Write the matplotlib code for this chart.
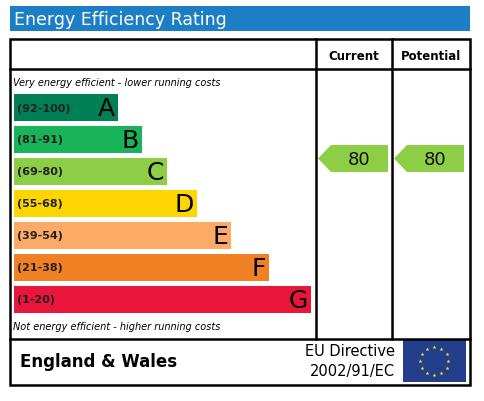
import numpy as np
import matplotlib.pyplot as plt
from matplotlib.patches import Rectangle, Polygon

# Bands
bands = ["A", "B", "C", "D", "E", "F", "G"]
ranges = ["(92-100)", "(81-91)", "(69-80)", "(55-68)", "(39-54)", "(21-38)", "(1-20)"]
band_right = [118, 142, 167, 197, 231, 269, 311]
colors = ["#008054", "#19b459", "#8dce46", "#ffd500", "#fcaa65", "#ef8023", "#e9153b"]
current = 80
potential = 80


def band_of(v):
    lows = [92, 81, 69, 55, 39, 21, 1]
    for i, lo in enumerate(lows):
        if v >= lo:
            return i
    return 6


fig = plt.figure(figsize=(4.85, 4.02), dpi=100)
ax = fig.add_axes([0, 0, 1, 1])
ax.set_xlim(0, 485)
ax.set_ylim(402, 0)
ax.axis("off")

# Title bar
ax.add_patch(Rectangle((10, 7), 460, 25, color="#1c7fc6", lw=0))
ax.text(14, 20, "Energy Efficiency Rating", color="white", fontsize=12.5,
        va="center", ha="left", family="DejaVu Sans")

# Frame
lw = 1.8
ax.add_patch(Rectangle((10, 40), 460, 346, fill=False, ec="black", lw=lw))
ax.plot([10, 470], [70, 70], color="black", lw=lw)
ax.plot([10, 470], [340, 340], color="black", lw=lw)
ax.plot([316, 316], [40, 340], color="black", lw=lw)
ax.plot([392, 392], [40, 340], color="black", lw=lw)
ax.text(354, 56, "Current", fontsize=8.5, fontweight="bold", ha="center", va="center")
ax.text(431, 56, "Potential", fontsize=8.5, fontweight="bold", ha="center", va="center")

ax.text(13, 83, "Very energy efficient - lower running costs", fontsize=7,
        style="italic", ha="left", va="center")
ax.text(13, 327, "Not energy efficient - higher running costs", fontsize=7,
        style="italic", ha="left", va="center")

top0, step, h = 95, 32, 27
for i, (b, r, xr, c) in enumerate(zip(bands, ranges, band_right, colors)):
    y = top0 + i * step
    ax.add_patch(Rectangle((14, y), xr - 14, h, color=c, lw=0))
    ax.text(17, y + h / 2, r, fontsize=8, fontweight="bold", ha="left", va="center",
            color="#222222")
    ax.text(xr - 3, y + h / 2 + 1, b, fontsize=18, ha="right", va="center", color="black")


def arrow(x0, x1, val):
    i = band_of(val)
    y = top0 + i * step - 13
    yc = y + h / 2
    pts = [(x0, yc), (x0 + 13, y), (x1, y), (x1, y + h), (x0 + 13, y + h)]
    ax.add_patch(Polygon(pts, closed=True, color=colors[i], lw=0))
    ax.text((x0 + x1) / 2 + 6, yc + 0.5, str(val), fontsize=13, ha="center",
            va="center", color="#111111")


arrow(318, 388, current)
arrow(394, 464, potential)

# Footer
ax.text(20, 362, "England & Wales", fontsize=12, fontweight="bold", ha="left", va="center")
ax.text(395, 352, "EU Directive", fontsize=10.5, ha="right", va="center")
ax.text(395, 372, "2002/91/EC", fontsize=10.5, ha="right", va="center")
ax.add_patch(Rectangle((403, 341), 63, 42, color="#233e8b", lw=0))
ang = np.linspace(0, 2 * np.pi, 13)[:-1]
ax.scatter(434.5 + 14 * np.cos(ang), 362 + 14 * np.sin(ang), marker="*", s=9,
           color="#f2e53a", lw=0)

fig.savefig("out.png", dpi=100)
